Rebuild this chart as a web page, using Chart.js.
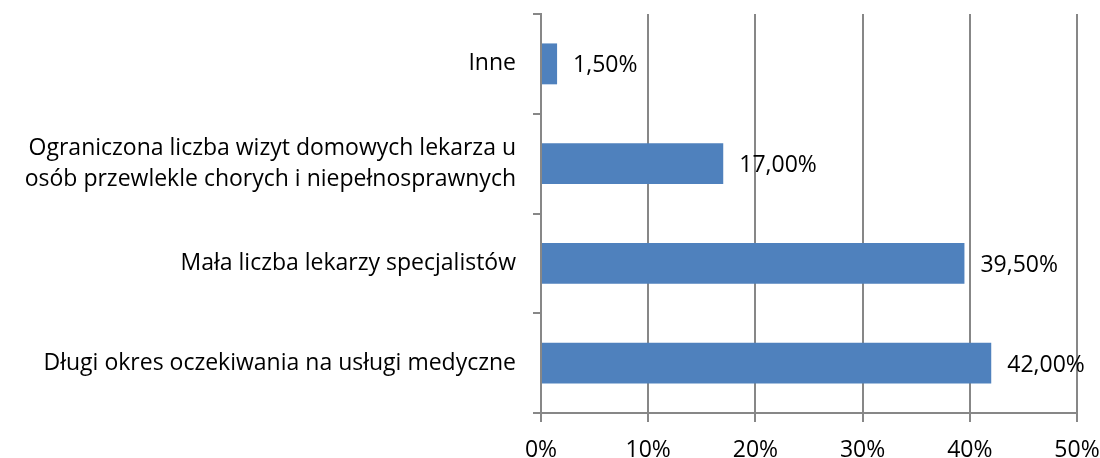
<!DOCTYPE html>
<html>
<head>
<meta charset="utf-8">
<script src="https://cdn.jsdelivr.net/npm/chart.js@4"></script>
<style>
  html, body { margin: 0; padding: 0; background: #fff; }
  #wrap { width: 1100px; height: 458px; }
</style>
</head>
<body>
<div id="wrap"><canvas id="barChart"></canvas></div>
<script>
const categories = [
  "Inne",
  ["Ograniczona liczba wizyt domowych lekarza u", "osób przewlekle chorych i niepełnosprawnych"],
  "Mała liczba lekarzy specjalistów",
  "Długi okres oczekiwania na usługi medyczne"
];
const values = [1.5, 17.0, 39.5, 42.0];
const xTicks = [0, 10, 20, 30, 40, 50];

const FONT = { family: "'Open Sans', sans-serif", size: 23 };
const GRID = "#878787";

function pct(v) {
  return v.toFixed(2).replace(".", ",") + "%";
}

// etykiety wartości przy końcach słupków
const valueLabels = {
  id: "valueLabels",
  afterDatasetsDraw(chart) {
    const ctx = chart.ctx;
    const meta = chart.getDatasetMeta(0);
    ctx.save();
    ctx.font = FONT.size + "px " + FONT.family;
    ctx.fillStyle = "#000";
    ctx.textAlign = "left";
    ctx.textBaseline = "middle";
    meta.data.forEach((bar, i) => {
      ctx.fillText(pct(values[i]), bar.x + 16, bar.y + 2);
    });
    ctx.restore();
  }
};

new Chart(document.getElementById("barChart"), {
  type: "bar",
  data: {
    labels: categories,
    datasets: [{
      data: values,
      backgroundColor: "#4f81bd",
      borderWidth: 0,
      barPercentage: 0.41,
      categoryPercentage: 1,
    }],
  },
  options: {
    indexAxis: "y",
    responsive: true,
    maintainAspectRatio: false,
    animation: false,
    layout: { padding: { top: 14, right: 23, left: 0, bottom: 0 } },
    plugins: {
      legend: { display: false },
      tooltip: { enabled: false },
    },
    scales: {
      x: {
        min: 0,
        max: 50,
        afterBuildTicks: (scale) => { scale.ticks = xTicks.map(v => ({ value: v })); },
        afterFit: (scale) => { scale.height = 45; scale.paddingLeft = 0; scale.paddingRight = 0; },
        grid: { color: GRID, lineWidth: 2, tickLength: 9 },
        border: { color: GRID, width: 2 },
        ticks: {
          color: "#000",
          font: FONT,
          padding: 15,
          callback: (v) => v + "%",
        },
      },
      y: {
        afterFit: (scale) => { scale.width = 541; scale.paddingTop = 0; scale.paddingBottom = 0; },
        grid: { color: GRID, lineWidth: 2, drawOnChartArea: false, tickLength: 8, offset: true },
        border: { color: GRID, width: 2 },
        ticks: {
          color: "#000",
          font: { ...FONT, lineHeight: 1.35 },
          padding: 17,
        },
      },
    },
  },
  plugins: [valueLabels],
});
</script>
</body>
</html>
